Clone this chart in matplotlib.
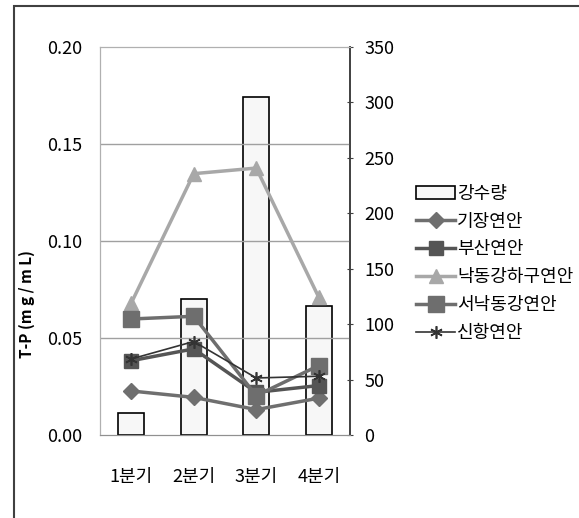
import matplotlib.pyplot as plt
import matplotlib.patches as mpatches
import numpy as np

plt.rcParams['font.family'] = ['Noto Sans CJK KR', 'DejaVu Sans']

분기 = ['1분기', '2분기', '3분기', '4분기']
강수량 = [20, 123, 305, 116]
기장연안 = [0.0227, 0.0194, 0.0131, 0.0190]
부산연안 = [0.0383, 0.0444, 0.0220, 0.0255]
낙동강하구연안 = [0.0680, 0.1347, 0.1376, 0.0710]
서낙동강연안 = [0.0598, 0.0612, 0.0203, 0.0358]
신항연안 = [0.0392, 0.0482, 0.0294, 0.0303]

fig = plt.figure(figsize=(5.79, 5.18), dpi=100)
ax = fig.add_axes([0.1727, 0.1602, 0.4318, 0.7491])
ax2 = ax.twinx()

x = np.arange(len(분기))

# 막대 (오른쪽 축)
ax2.bar(x, 강수량, width=0.42, color='#f7f7f7', edgecolor='black', linewidth=1.2, zorder=1)
ax2.set_ylim(0, 350)
ax2.set_yticks(range(0, 351, 50))

ax.set_zorder(ax2.get_zorder() + 1)
ax.patch.set_visible(False)

for v in [0.05, 0.10, 0.15]:
    ax.axhline(v, color='#a0a0a0', linewidth=1.0, zorder=0)

ax.plot(x, 기장연안, color='#6f6f6f', lw=2.5, marker='D', ms=8, label='기장연안')
ax.plot(x, 부산연안, color='#555555', lw=2.5, marker='s', ms=10, label='부산연안')
ax.plot(x, 낙동강하구연안, color='#a8a8a8', lw=2.5, marker='^', ms=10, label='낙동강하구연안')
ax.plot(x, 서낙동강연안, color='#6e6e6e', lw=2.5, marker='s', ms=12, label='서낙동강연안')
ax.plot(x, 신항연안, color='#333333', lw=1.2, marker=(6, 2, 0), ms=9, mew=1.2, label='신항연안')

ax.set_xlim(-0.5, 3.5)
ax.set_ylim(0, 0.20)
ax.set_yticks([0, 0.05, 0.10, 0.15, 0.20])
ax.set_yticklabels(['0.00', '0.05', '0.10', '0.15', '0.20'])
ax.set_xticks(x)
ax.set_xticklabels(분기)
ax.set_ylabel('T-P (m g / m L)', fontsize=11, fontweight='bold')
ax.yaxis.set_label_coords(-0.26, 0.338)

ax.tick_params(axis='y', length=0, labelsize=13, pad=13)
ax.tick_params(axis='x', length=0, labelsize=13, pad=24)
ax2.tick_params(axis='y', length=5, direction='inout', labelsize=13, pad=8, color='#404040')

for a in (ax, ax2):
    a.spines['left'].set_color('#b0b0b0')
    a.spines['top'].set_color('#b0b0b0')
    a.spines['bottom'].set_color('#909090')
    a.spines['right'].set_color('#404040')
    a.spines['right'].set_linewidth(1.2)

handles = [mpatches.Patch(facecolor='#f7f7f7', edgecolor='black', linewidth=1.2, label='강수량')]
h, l = ax.get_legend_handles_labels()
handles += h
fig.legend(handles=handles, loc='upper left', bbox_to_anchor=(0.69, 0.675), frameon=False,
           fontsize=13, handlelength=2.2, handletextpad=0.1, labelspacing=0.55)

fig.patches.append(mpatches.Rectangle((0.024, -0.01), 1.0, 0.998, transform=fig.transFigure,
                                      fill=False, edgecolor='#404040', linewidth=1.5))

fig.savefig('out.png', dpi=100)
